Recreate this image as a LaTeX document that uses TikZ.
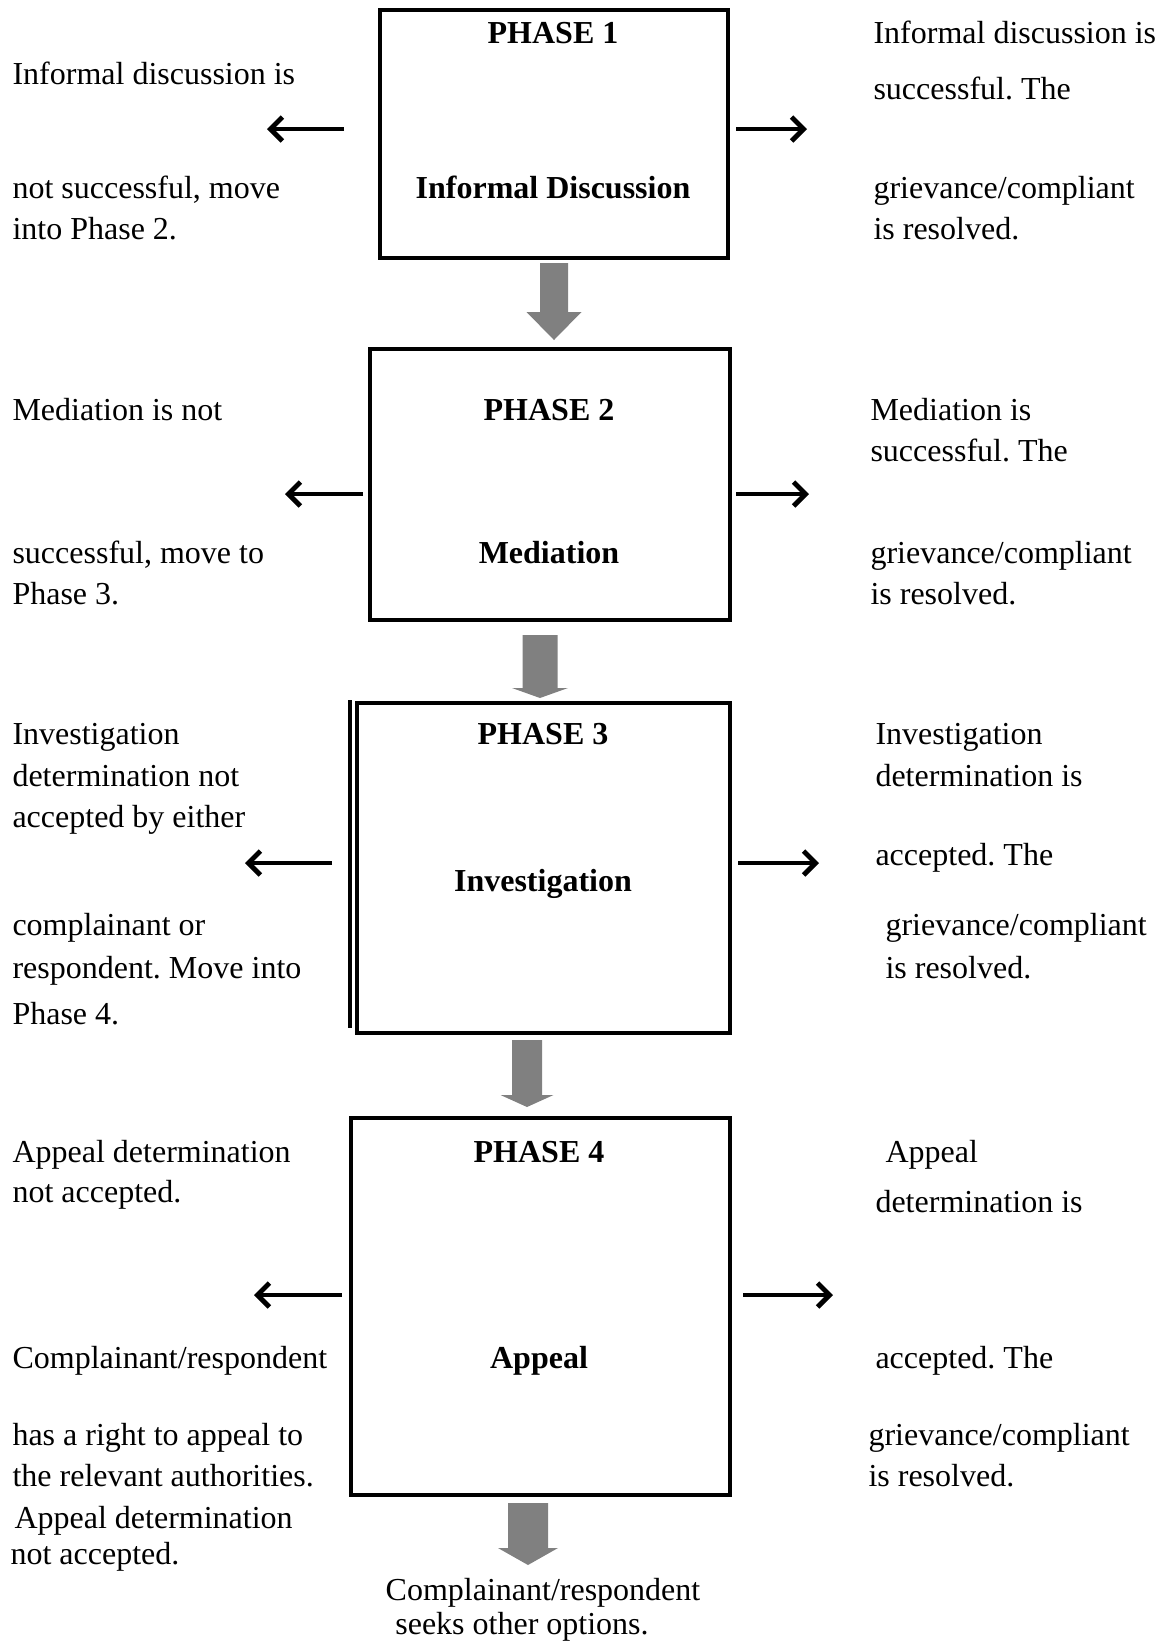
\documentclass[tikz,border=0pt]{standalone}
\usepackage{fontspec}
\setmainfont{Liberation Serif}
\usetikzlibrary{arrows.meta}
\frenchspacing

\begin{document}
\begin{tikzpicture}[x=0.375pt, y=-0.375pt, font=\fontsize{12}{14}\selectfont,
  phase/.style={draw, line width=1.2pt, inner sep=0pt},
  txt/.style={anchor=base west, inner sep=0pt},
  ctxt/.style={anchor=base, inner sep=0pt},
  title/.style={anchor=base, inner sep=0pt, font=\fontsize{12}{14}\selectfont\bfseries},
  sidearrow/.style={line width=1.8pt, -{Straight Barb[length=4.5pt, width=9pt, line width=1.8pt]}},
  blockarrow/.style={fill=gray, draw=none}]
  \useasboundingbox (0,0) rectangle (1159,1641);

  % Phase boxes
  \node[phase, minimum width=348*0.375pt, minimum height=248*0.375pt] (p1) at (554,134) {};
  \node[phase, minimum width=360*0.375pt, minimum height=271*0.375pt] (p2) at (550,484.5) {};
  \node[phase, minimum width=373*0.375pt, minimum height=330*0.375pt] (p3) at (543.5,868) {};
  \node[phase, minimum width=379*0.375pt, minimum height=377*0.375pt] (p4) at (540.5,1306.5) {};
  % extra rule beside Phase 3
  \draw[line width=1.2pt] (350,700) -- (350,1028);

  % Grey arrows between phases
  \foreach \cx/\sw/\hw/\top/\neck/\tip in {554/14/27.5/263/312/340, 540/17.5/28/635/688/698,
      527/15/26.5/1040/1095/1107, 528/20/30/1503/1548/1565}
    \fill[blockarrow] (\cx-\sw,\top) -- (\cx+\sw,\top) -- (\cx+\sw,\neck) -- (\cx+\hw,\neck)
      -- (\cx,\tip) -- (\cx-\hw,\neck) -- (\cx-\sw,\neck) -- cycle;

  % Phase 1
  \node[title] (t1a) at (553,43)  {PHASE 1};
  \node[title] (t1b) at (553,198) {Informal Discussion};
  \node[txt] (l1a) at (12,84)  {Informal discussion is};
  \node[txt] (l1b) at (12,198) {not successful, move};
  \node[txt] (l1c) at (12,239) {into Phase 2.};
  \node[txt] (r1a) at (873,43)  {Informal discussion is};
  \node[txt] (r1b) at (873,99)  {successful. The};
  \node[txt] (r1c) at (873,198) {grievance/compliant};
  \node[txt] (r1d) at (873,239) {is resolved.};
  \coordinate (a1l) at (344,129); \coordinate (a1le) at (267,129);
  \coordinate (a1r) at (736,129); \coordinate (a1re) at (807,129);
  \draw[sidearrow] (a1l) -- (a1le);
  \draw[sidearrow] (a1r) -- (a1re);

  % Phase 2
  \node[title] (t2a) at (549,420) {PHASE 2};
  \node[title] (t2b) at (549,563) {Mediation};
  \node[txt] (l2a) at (12,420) {Mediation is not};
  \node[txt] (l2b) at (12,563) {successful, move to};
  \node[txt] (l2c) at (12,604) {Phase 3.};
  \node[txt] (r2a) at (870,420) {Mediation is};
  \node[txt] (r2b) at (870,461) {successful. The};
  \node[txt] (r2c) at (870,563) {grievance/compliant};
  \node[txt] (r2d) at (870,604) {is resolved.};
  \coordinate (a2l) at (363,494); \coordinate (a2le) at (285,494);
  \coordinate (a2r) at (736,494); \coordinate (a2re) at (809,494);
  \draw[sidearrow] (a2l) -- (a2le);
  \draw[sidearrow] (a2r) -- (a2re);

  % Phase 3
  \node[title] (t3a) at (543,744) {PHASE 3};
  \node[title] (t3b) at (543,891) {Investigation};
  \node[txt] (l3a) at (12,744)  {Investigation};
  \node[txt] (l3b) at (12,786)  {determination not};
  \node[txt] (l3c) at (12,827)  {accepted by either};
  \node[txt] (l3d) at (12,935)  {complainant or};
  \node[txt] (l3e) at (12,978)  {respondent. Move into};
  \node[txt] (l3f) at (12,1024) {Phase 4.};
  \node[txt] (r3a) at (875,744) {Investigation};
  \node[txt] (r3b) at (875,786) {determination is};
  \node[txt] (r3c) at (875,865) {accepted. The};
  \node[txt] (r3d) at (885,935) {grievance/compliant};
  \node[txt] (r3e) at (885,978) {is resolved.};
  \coordinate (a3l) at (332,863); \coordinate (a3le) at (245,863);
  \coordinate (a3r) at (738,863); \coordinate (a3re) at (819,863);
  \draw[sidearrow] (a3l) -- (a3le);
  \draw[sidearrow] (a3r) -- (a3re);

  % Phase 4
  \node[title] (t4a) at (539,1162) {PHASE 4};
  \node[title] (t4b) at (539,1368) {Appeal};
  \node[txt] (l4a) at (12,1162) {Appeal determination};
  \node[txt] (l4b) at (12,1202) {not accepted.};
  \node[txt] (l4c) at (12,1368) {Complainant/respondent};
  \node[txt] (l4d) at (12,1445) {has a right to appeal to};
  \node[txt] (l4e) at (12,1486) {the relevant authorities.};
  \node[txt] (l4f) at (14,1528) {Appeal determination};
  \node[txt] (l4g) at (10,1564) {not accepted.};
  \node[txt] (r4a) at (885,1162) {Appeal};
  \node[txt] (r4b) at (875,1212) {determination is};
  \node[txt] (r4c) at (875,1368) {accepted. The};
  \node[txt] (r4d) at (868,1445) {grievance/compliant};
  \node[txt] (r4e) at (868,1486) {is resolved.};
  \coordinate (a4l) at (342,1295); \coordinate (a4le) at (254,1295);
  \coordinate (a4r) at (743,1295); \coordinate (a4re) at (833,1295);
  \draw[sidearrow] (a4l) -- (a4le);
  \draw[sidearrow] (a4r) -- (a4re);

  % Outcome
  \node[ctxt] (o1) at (543,1600) {Complainant/respondent};
  \node[ctxt] (o2) at (522,1634) {seeks other options.};
\end{tikzpicture}
\end{document}
